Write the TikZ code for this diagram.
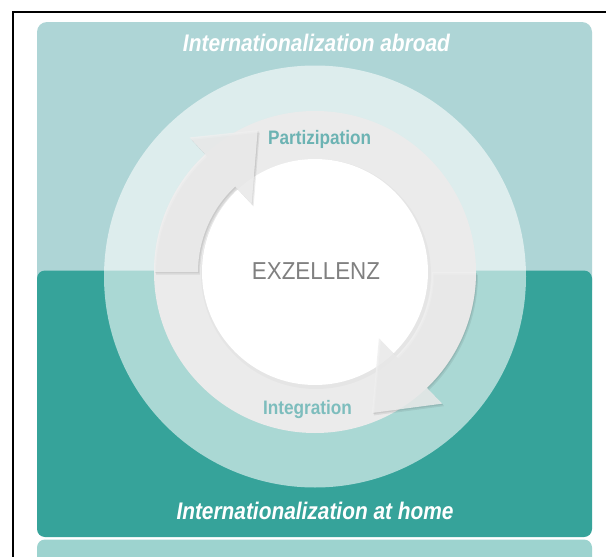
\documentclass[tikz,border=0pt]{standalone}
\usepackage{fontspec}
\setmainfont{Liberation Sans}
\usepackage{graphicx}
\definecolor{lightteal}{HTML}{AED5D6}
\definecolor{darkteal}{HTML}{36A39A}
\definecolor{stripteal}{HTML}{9DD3CF}
\definecolor{ringgray}{HTML}{EBEBEB}
\definecolor{arrowgray}{HTML}{EFEFEF}
\definecolor{labteal}{HTML}{6CB3B3}
\definecolor{labtealb}{HTML}{7DBDBD}
\definecolor{exgray}{HTML}{808080}
\newcommand\leftarrowshape{(180:161) arc[start angle=180,end angle=227,radius=161] -- (227:184) -- (248:153) -- (227:93) -- (227:117) arc[start angle=227,end angle=180,radius=117] -- cycle}
\newcommand\rightarrowshape{(0:161) arc[start angle=0,end angle=46,radius=161] -- (46:183) -- (68:152) -- (46:92) -- (46:117) arc[start angle=46,end angle=0,radius=117] -- cycle}
\begin{document}
\begin{tikzpicture}[x=1pt,y=-1pt,
  paneltitle/.style={anchor=base,text=white,inner sep=0pt,font=\bfseries\itshape\fontsize{24}{24}\selectfont},
  phaselabel/.style={anchor=base,inner sep=0pt,font=\bfseries\fontsize{19.5}{19.5}\selectfont},
  arrowbody/.style={fill=arrowgray,fill opacity=0.82},
  arrowshadow/.style={fill=black,fill opacity=0.07}]
\useasboundingbox (0,0) rectangle (606,557);
\begin{scope}
\clip (0,0) rectangle (606,557);
\fill[white] (0,0) rectangle (606,557);
% panels
\fill[lightteal, rounded corners=10pt] (37,22) rectangle (592,300);
\fill[darkteal, rounded corners=8pt] (37,270.5) rectangle (592,537);
\fill[stripteal, rounded corners=8pt] (37,539.5) rectangle (592,590);
% frame
\draw[line width=2pt] (13,600) -- (13,12.3) -- (640,12.3);
% rings
\fill[white, fill opacity=0.58] (315,276.5) circle[radius=211];
\fill[ringgray] (315,272) circle[radius=161];
\fill[black, fill opacity=0.025] (316,274) circle[radius=115];
\fill[white] (315,272) circle[radius=113];
% arrows
\begin{scope}[shift={(315,272)}]
  \fill[arrowshadow, shift={(2,2.5)}] \leftarrowshape;
  \fill[arrowshadow, shift={(1,1.2)}] \leftarrowshape;
  \fill[arrowbody] \leftarrowshape;
  \fill[arrowshadow, shift={(2,2.5)}] \rightarrowshape;
  \fill[arrowshadow, shift={(1,1.2)}] \rightarrowshape;
  \fill[arrowbody] \rightarrowshape;
\end{scope}
\end{scope}
% texts
\node[paneltitle] (abroad) at (316.5,51.5) {\resizebox{267pt}{\height}{Internationalization abroad}};
\node[paneltitle] (home) at (315,519) {\resizebox{277pt}{\height}{Internationalization at home}};
\node[phaselabel, text=labteal] (partizipation) at (319.7,144.5) {\resizebox{103pt}{\height}{Partizipation}};
\node[phaselabel, text=labtealb] (integration) at (307.5,414) {\resizebox{89pt}{\height}{Integration}};
\node[anchor=base, inner sep=0pt, text=exgray, font=\fontsize{24.5}{24.5}\selectfont] (exzellenz) at (316,279.3) {\resizebox{128pt}{\height}{EXZELLENZ}};
\end{tikzpicture}
\end{document}
